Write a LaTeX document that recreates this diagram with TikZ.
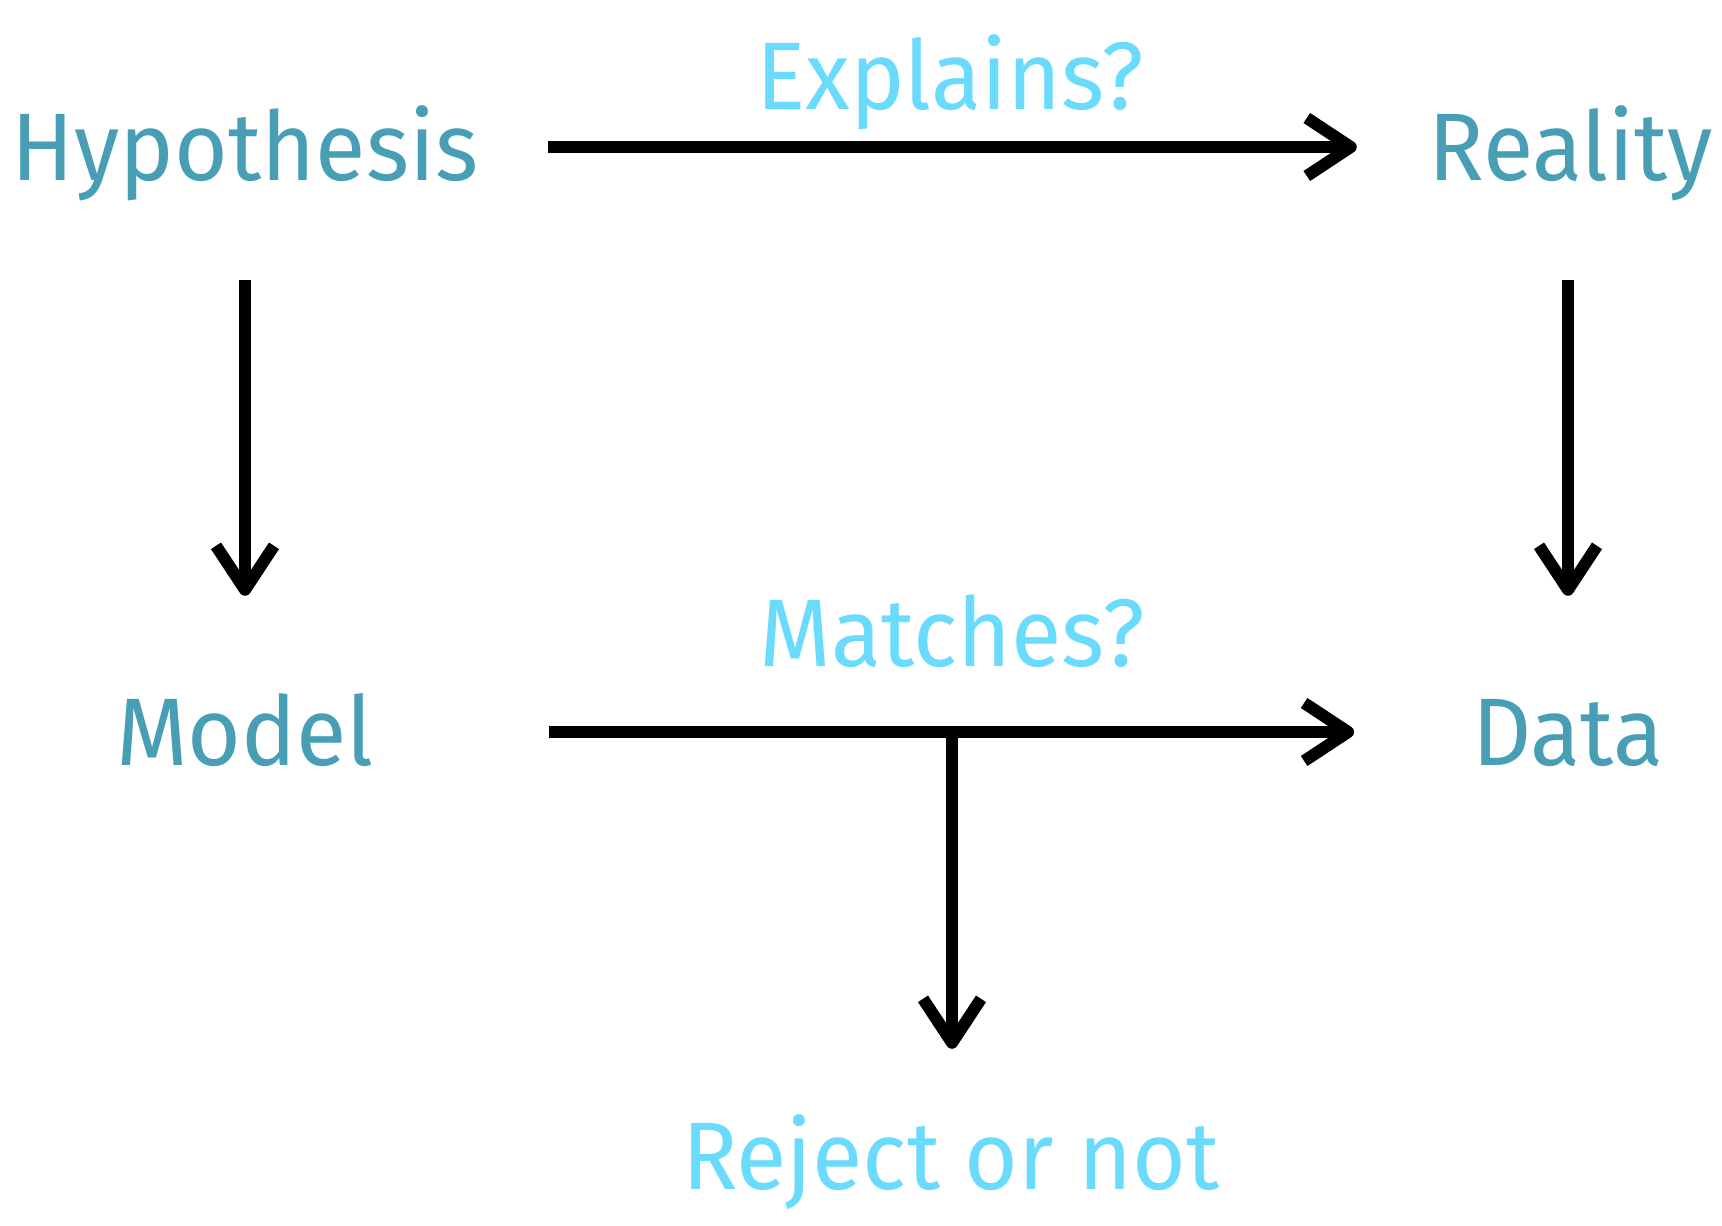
\documentclass[tikz,border=0pt]{standalone}
\usepackage{fontspec}
\setmainfont[FakeStretch=0.96]{Fira Sans}
\usetikzlibrary{arrows.meta,calc}
\definecolor{termteal}{RGB}{71,158,181}
\definecolor{askcyan}{RGB}{106,219,253}
\begin{document}
\begin{tikzpicture}[x=1pt,y=-1pt,
  term/.style={font=\fontsize{96}{104}\selectfont, text=termteal, inner sep=0pt,
    text height=66pt, text depth=0pt},
  ask/.style={font=\fontsize{96}{104}\selectfont, text=askcyan, inner sep=0pt, anchor=base},
  arr/.style={line width=12pt, -{Straight Barb[length=44pt,width=58pt,line join=round]}}]
\useasboundingbox (0,0) rectangle (1722,1226);

% the four terms
\node[term] (hyp) at (245,147) {Hypothesis};
\node[term] (real) at (1571,147) {Reality};
\node[term] (model) at (245,732) {Model};
\node[term] (data) at (1568,732) {Data};
\node[ask, text height=66pt] (rej) at (951,1189) {Reject or not};

% questions on the horizontal links
\node[ask] (expl) at (950,109) {Explains?};
\node[ask] (match) at (952,666) {Matches?};

% connectors
\draw[arr, shorten <=70pt, shorten >=72pt] (hyp.east) -- (real.west);
\draw[arr, shorten <=100pt, shorten >=103pt] (hyp.south) -- (model.north);
\draw[arr, shorten <=100pt, shorten >=103pt] (real.south -| data.north) -- (data.north);
\draw[arr, shorten <=175pt, shorten >=118pt] (model.east) -- (data.west);
\coordinate (split) at (952,730);
\draw[arr, shorten >=74pt] (split) -- (split |- rej.north);
\end{tikzpicture}
\end{document}
